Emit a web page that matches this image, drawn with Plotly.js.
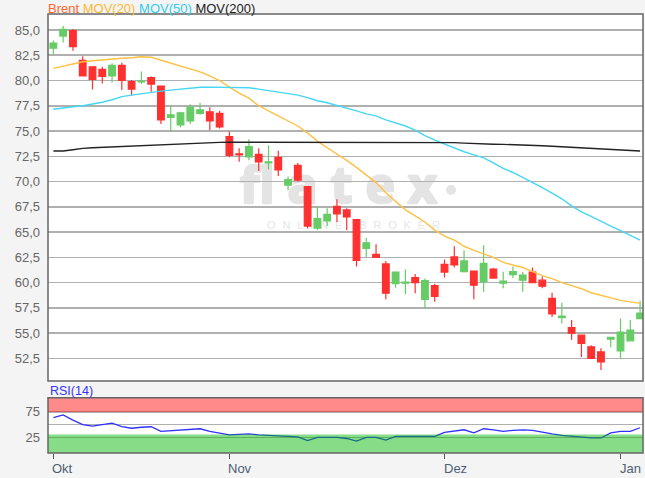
<!DOCTYPE html>
<html><head><meta charset="utf-8">
<script src="https://cdn.plot.ly/plotly-3.0.1.min.js"></script>
<style>html,body{margin:0;padding:0;background:#f4f4f4;}#chart{width:645px;height:478px;}</style>
</head><body><div id="chart"></div>
<script>
// trading-day positions (one per candle)
const days = Array.from({length: 61}, (_, i) => i);
const monthTickPos = [0, 18, 40, 58];
const monthLabels = ['Okt', 'Nov', 'Dez', 'Jan'];

const open = [83.2,84.4,84.95,82.0,81.35,81.1,80.45,81.5,79.9,79.85,
  80.3,79.45,76.35,75.6,76.0,76.75,76.9,76.75,74.45,72.75,
  72.45,72.7,71.85,72.4,69.65,71.6,69.5,65.4,66.1,67.55,
  67.2,66.25,63.4,62.8,61.85,59.9,59.95,60.5,58.35,59.7,
  61.8,62.55,61.1,61.15,60.1,61.35,59.95,60.8,60.25,61.05,
  60.25,58.45,56.55,55.55,54.8,53.65,53.15,54.4,53.25,54.25,56.45];
const high = [83.95,85.4,85.1,82.4,81.4,81.35,81.7,81.75,80.05,80.9,
  80.4,79.5,77.5,76.9,77.65,77.8,77.35,77.0,74.95,73.3,
  74.2,73.3,73.6,73.05,70.5,71.85,69.5,67.55,67.35,68.25,
  67.35,66.3,64.45,63.8,62.15,61.1,61.3,60.85,60.4,59.9,
  62.3,63.6,63.2,61.2,63.7,61.45,61.05,61.6,61.05,61.5,
  60.6,59.0,58.0,56.3,54.85,53.8,53.5,54.65,56.45,56.3,58.2];
const low = [82.6,83.75,82.95,80.4,79.1,79.7,79.8,79.05,78.55,79.65,
  78.9,75.7,74.95,75.35,75.7,76.6,75.1,75.25,72.4,71.95,
  72.1,71.05,71.2,70.55,69.15,70.0,65.35,65.2,65.6,66.0,
  65.2,61.6,62.55,62.45,58.35,59.5,58.85,58.95,57.45,58.1,
  60.5,61.5,61.0,58.35,59.1,60.4,59.45,60.45,59.1,59.95,
  59.45,56.6,55.95,54.35,52.65,52.45,51.35,53.6,52.5,54.2,56.4];
const close = [83.7,85.05,83.35,80.45,80.1,80.4,81.5,80.0,79.15,79.95,
  79.65,76.1,76.6,76.8,77.35,77.1,76.0,75.4,72.6,72.65,
  73.45,71.95,71.95,71.15,70.2,70.15,65.6,66.35,66.75,66.8,
  66.5,62.2,63.95,62.5,58.95,61.05,60.05,60.0,60.2,58.65,
  61.05,61.75,62.15,59.75,61.9,60.45,60.15,61.1,60.75,60.0,
  59.65,56.9,56.7,55.0,54.0,52.5,52.15,54.6,55.1,55.3,57.0];

const mov20 = [81.2,81.4,81.6,81.85,81.95,82.05,82.15,82.2,82.25,82.35,
  82.3,82.0,81.7,81.4,81.15,80.85,80.45,80.0,79.35,78.75,
  78.25,77.5,77.0,76.5,76.0,75.5,74.8,74.0,73.35,72.75,
  72.1,71.4,70.65,69.9,68.9,68.0,67.2,66.6,66.0,65.2,
  64.6,64.2,63.6,63.2,62.85,62.5,62.0,61.75,61.5,61.1,
  60.7,60.4,60.0,59.7,59.4,59.0,58.75,58.55,58.25,58.1,57.95];
const mov50 = [77.15,77.3,77.4,77.5,77.65,77.85,78.1,78.4,78.55,78.7,
  78.85,78.95,79.05,79.15,79.25,79.33,79.35,79.35,79.33,79.3,
  79.28,79.15,79.0,78.85,78.7,78.55,78.3,78.0,77.8,77.55,
  77.3,77.0,76.7,76.5,76.1,75.8,75.5,75.1,74.55,74.1,
  73.7,73.3,72.95,72.65,72.35,71.85,71.3,70.9,70.4,69.95,
  69.4,68.85,68.3,67.6,67.0,66.55,66.05,65.6,65.15,64.65,64.2];
const mov200 = [73.02,73.02,73.15,73.29,73.35,73.39,73.45,73.5,73.58,73.61,
  73.63,73.68,73.71,73.75,73.8,73.84,73.86,73.88,73.9,73.9,
  73.9,73.9,73.9,73.9,73.9,73.9,73.9,73.9,73.9,73.9,
  73.9,73.9,73.9,73.9,73.9,73.9,73.9,73.88,73.88,73.88,
  73.88,73.85,73.8,73.75,73.72,73.7,73.68,73.66,73.63,73.6,
  73.55,73.5,73.45,73.4,73.35,73.3,73.27,73.2,73.1,73.05,73.02];
const rsi14 = [64,69,59,50,47,50,53,46,43,45,
  46,37,38,39,41,42,37,33,30,31,
  32,30,29,27,26,26,19,25,25,25,
  23,18,25,25,20,27,27,27,27,27,
  35,37,40,34,42,40,37,39,40,39,
  35,32,29,27,25,24,24,34,37,37,44];

const FONT = 'Liberation Sans, Arial, sans-serif';

const traces = [
  {type:'candlestick', x:days, open:open, high:high, low:low, close:close,
   xaxis:'x', yaxis:'y', whiskerwidth:0,
   increasing:{line:{color:'#66cc66', width:1.2}, fillcolor:'#66cc66'},
   decreasing:{line:{color:'#ff3030', width:1.2}, fillcolor:'#ff3030'},
   hoverinfo:'skip'},
  {type:'scatter', mode:'lines', x:days, y:mov20, xaxis:'x', yaxis:'y',
   line:{color:'#ffc040', width:1.4}, hoverinfo:'skip'},
  {type:'scatter', mode:'lines', x:days, y:mov50, xaxis:'x', yaxis:'y',
   line:{color:'#45d6f5', width:1.4}, hoverinfo:'skip'},
  {type:'scatter', mode:'lines', x:days, y:mov200, xaxis:'x', yaxis:'y',
   line:{color:'#222222', width:1.4}, hoverinfo:'skip'},
  {type:'scatter', mode:'lines', x:days, y:rsi14, xaxis:'x', yaxis:'y2',
   line:{color:'#3030ff', width:1.3}, hoverinfo:'skip'}
];

const wm = '<svg xmlns="http://www.w3.org/2000/svg" width="240" height="80" viewBox="0 0 240 80">' +
  '<text x="10" y="43" font-family="Open Sans, Liberation Sans, sans-serif" font-size="50" font-weight="700" fill="#e4e4e4" stroke="#e4e4e4" stroke-width="2.5" stroke-linejoin="round" textLength="197" lengthAdjust="spacing">flatex</text>' +
  '<circle cx="221" cy="30" r="5" fill="#e4e4e4"/>' +
  '<text x="37" y="69" font-family="Liberation Sans, sans-serif" font-size="11" fill="#e6e6e6" textLength="173" lengthAdjust="spacing">ONLINE BROKER</text></svg>';

const annotations = [
  {xref:'paper', yref:'paper', x:0, y:1.0125, xanchor:'left', yanchor:'middle', xshift:-2, showarrow:false,
   text:'<span style="color:#ff6633">Brent</span> <span style="color:#ffb833">MOV(20)</span> <span style="color:#33ccf0">MOV(50)</span> <span style="color:#222">MOV(200)</span>',
   font:{family:FONT, size:13}},
  {xref:'paper', yref:'paper', x:0, y:0.1412, xanchor:'left', yanchor:'middle', showarrow:false,
   text:'RSI(14)', font:{family:FONT, size:12.5, color:'#3333ff'}}
];
monthLabels.forEach((m, i) => annotations.push({
  xref:'x', yref:'paper', x:monthTickPos[i], y:-0.0342, xanchor:'left', yanchor:'middle', xshift:-3,
  showarrow:false, text:m, font:{family:FONT, size:13, color:'#4d5e74'}
}));

const layout = {
  width:645, height:478,
  margin:{l:48, r:2, t:14, b:25},
  paper_bgcolor:'#f4f4f4', plot_bgcolor:'#ffffff',
  separators:',.',
  showlegend:false,
  boxgap:0.15, boxgroupgap:0.2,
  font:{family:FONT, size:13, color:'#666'},
  xaxis:{anchor:'y2', range:[-0.55, 60.3], tickvals:monthTickPos, ticktext:['','','',''],
    ticks:'outside', ticklen:5, tickcolor:'#555', tickwidth:1,
    showgrid:false, zeroline:false, showline:false, rangeslider:{visible:false}, fixedrange:true},
  yaxis:{domain:[0.164, 1], range:[50.27, 86.58], tick0:0, dtick:2.5, tickformat:'.1f',
    showgrid:true, gridcolor:'#b0b0b0', gridwidth:1.6, zeroline:false, ticks:'',
    ticklabelstandoff:7, tickfont:{family:FONT, size:13, color:'#666'}, fixedrange:true},
  yaxis2:{domain:[0, 0.126], range:[-5.4, 102.8], tickvals:[25,50,75], ticktext:['25','','75'],
    showgrid:true, gridcolor:'#b0b0b0', gridwidth:1.6, zeroline:false, ticks:'',
    ticklabelstandoff:7, tickfont:{family:FONT, size:13, color:'#666'}, fixedrange:true},
  shapes:[
    {type:'rect', xref:'paper', yref:'y2', x0:0, x1:1, y0:75, y1:102.8, fillcolor:'rgba(255,0,0,0.46)', line:{width:0}, layer:'above'},
    {type:'rect', xref:'paper', yref:'y2', x0:0, x1:1, y0:-5.4, y1:31, fillcolor:'rgba(0,180,0,0.47)', line:{width:0}, layer:'above'},
    {type:'rect', xref:'paper', yref:'paper', x0:0, x1:1, y0:0.164, y1:1, line:{color:'#666', width:1.5}, layer:'above'},
    {type:'rect', xref:'paper', yref:'paper', x0:0, x1:1, y0:0, y1:0.126, line:{color:'#666', width:1.5}, layer:'above'}
  ],
  images:[
    {source:'data:image/svg+xml;charset=utf-8,' + encodeURIComponent(wm), xref:'paper', yref:'paper',
     x:(230-48)/595, y:(453-160)/439, sizex:240/595, sizey:80/439, sizing:'stretch',
     xanchor:'left', yanchor:'top', layer:'below'}
  ],
  annotations:annotations
};

Plotly.newPlot('chart', traces, layout, {staticPlot:true, displayModeBar:false});
</script>
</body></html>
